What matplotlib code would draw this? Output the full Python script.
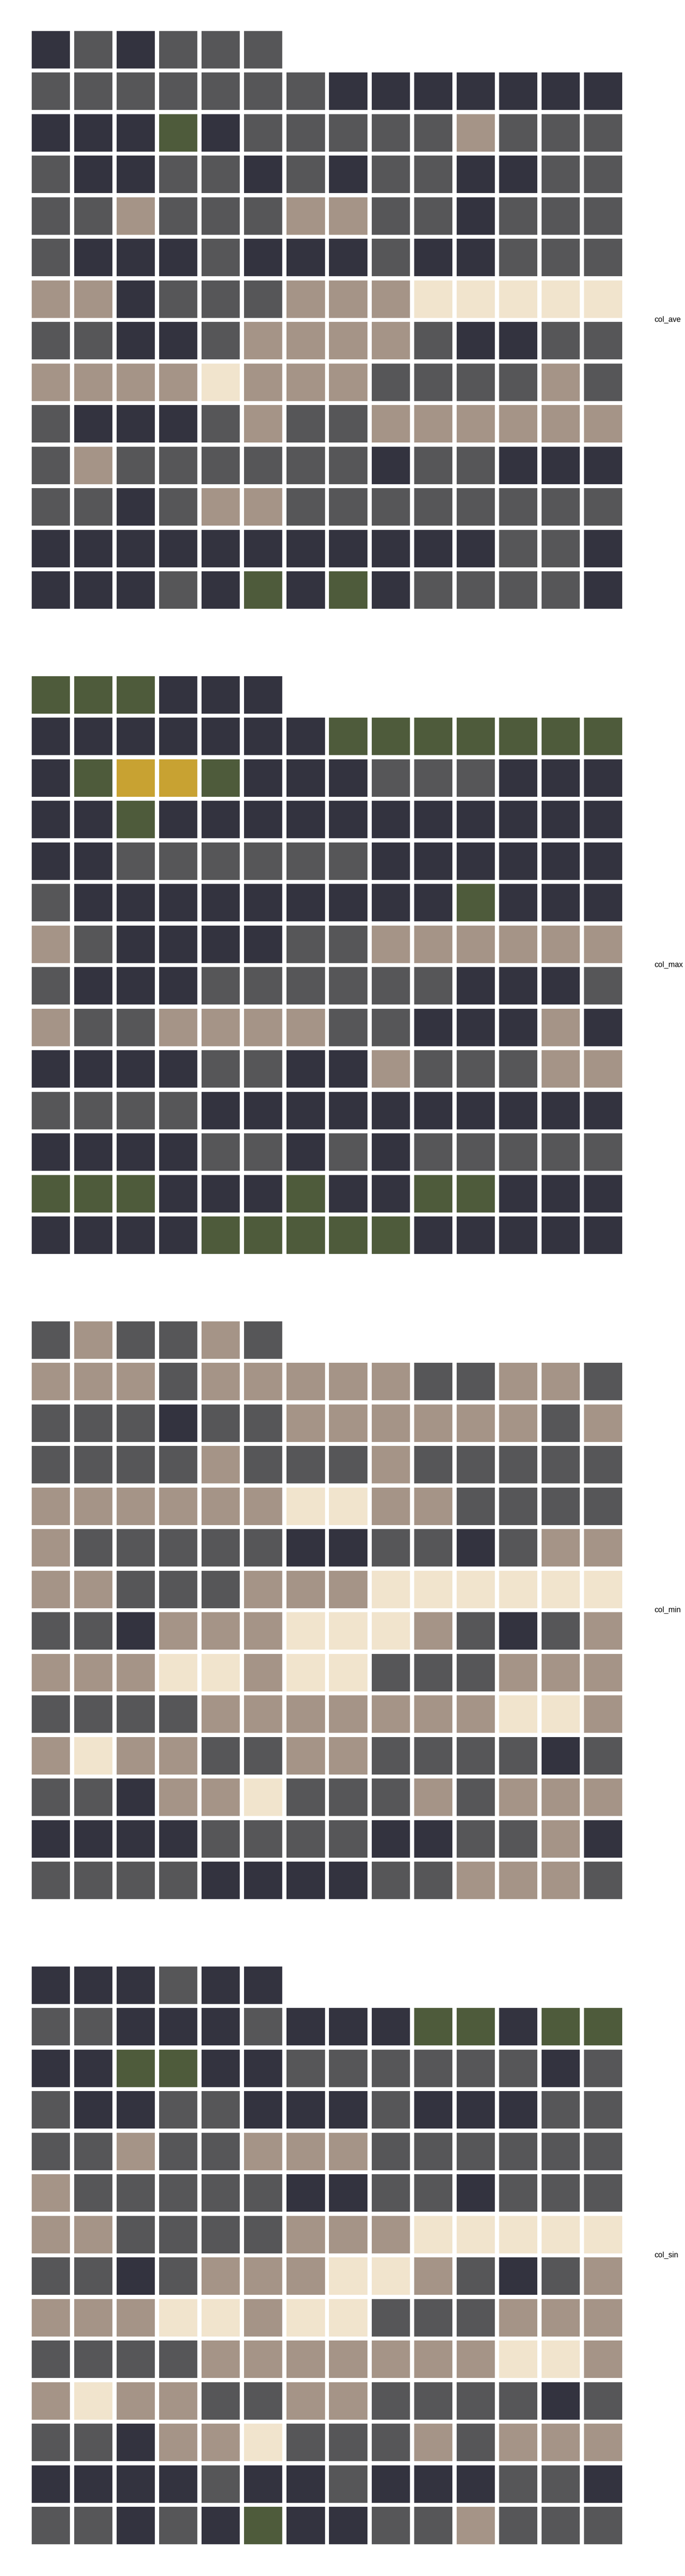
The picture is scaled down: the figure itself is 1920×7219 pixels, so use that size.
import matplotlib
matplotlib.use("Agg")
import matplotlib.pyplot as plt
from matplotlib.patches import Rectangle

# one letter per cell, rows top to bottom (first row is partial)
# D dark, G gray, T taupe, C cream, O olive, Y gold
col_ave = [
    "DGDGGG",
    "GGGGGGGDDDDDDD",
    "DDDODGGGGGTGGG",
    "GDDGGDGDGGDDGG",
    "GGTGGGTTGGDGGG",
    "GDDDGDDDGDDGGG",
    "TTDGGGTTTCCCCC",
    "GGDDGTTTTGDDGG",
    "TTTTCTTTGGGGTG",
    "GDDDGTGGTTTTTT",
    "GTGGGGGGDGGDDD",
    "GGDGTTGGGGGGGG",
    "DDDDDDDDDDDGGD",
    "DDDGDODODGGGGD",
]
col_max = [
    "OOODDD",
    "DDDDDDDOOOOOOO",
    "DOYYODDDGGGDDD",
    "DDODDDDDDDDDDD",
    "DDGGGGGGDDDDDD",
    "GDDDDDDDDDODDD",
    "TGDDDDGGTTTTTT",
    "GDDDGGGGGGDDDG",
    "TGGTTTTGGDDDTD",
    "DDDDGGDDTGGGTT",
    "GGGGDDDDDDDDDD",
    "DDDDGGDGDGGGGG",
    "OOODDDODDOODDD",
    "DDDDOOOOODDDDD",
]
col_min = [
    "GTGGTG",
    "TTTGTTTTTGGTTG",
    "GGGDGGTTTTTTGT",
    "GGGGTGGGTGGGGG",
    "TTTTTTCCTTGGGG",
    "TGGGGGDDGGDGTT",
    "TTGGGTTTCCCCCC",
    "GGDTTTCCCTGDGT",
    "TTTCCTCCGGGTTT",
    "GGGGTTTTTTTCCT",
    "TCTTGGTTGGGGDG",
    "GGDTTCGGGTGTTT",
    "DDDDGGGGDDGGTD",
    "GGGGDDDDGGTTTG",
]
col_sin = [
    "DDDGDD",
    "GGDDDGDDDOODOO",
    "DDOODDGGGGGGDG",
    "GDDGGDDDGDDDGG",
    "GGTGGTTTGGGGGG",
    "TGGGGGDDGGDGGG",
    "TTGGGGTTTCCCCC",
    "GGDGTTTCCTGDGT",
    "TTTCCTCCGGGTTT",
    "GGGGTTTTTTTCCT",
    "TCTTGGTTGGGGDG",
    "GGDTTCGGGTGTTT",
    "DDDDGDDGDDDGGD",
    "GGDGDODDGGTGGG",
]
panel_names = ["col_ave", "col_max", "col_min", "col_sin"]
panels = [col_ave, col_max, col_min, col_sin]

colors = {
    "D": "#33333f",
    "G": "#565658",
    "T": "#a59487",
    "C": "#f1e4cd",
    "O": "#4e5b3b",
    "Y": "#c8a232",
}

W, H = 1920, 7219
fig = plt.figure(figsize=(W / 100, H / 100), dpi=100)

ncols = 14
nrows = 14
gap = 0.1
left_px, width_px, height_px = 89, 1655, 1619
tops_px = [87, 1895, 3703, 5511]

for grid, name, top in zip(panels, panel_names, tops_px):
    ax = fig.add_axes([left_px / W, (H - top - height_px) / H, width_px / W, height_px / H])
    for i, row in enumerate(grid):
        for j, c in enumerate(row):
            ax.add_patch(Rectangle((j, i), 1 - gap, 1 - gap, facecolor=colors[c], edgecolor="none"))
    ax.set_xlim(0, ncols - gap)
    ax.set_ylim(nrows - gap, 0)
    ax.axis("off")
    fig.text(1834 / W, 1 - (top + height_px / 2) / H, name, ha="left", va="center",
             fontsize=15.5, family=["Liberation Sans", "DejaVu Sans"])

fig.savefig("out.png", dpi=100)
